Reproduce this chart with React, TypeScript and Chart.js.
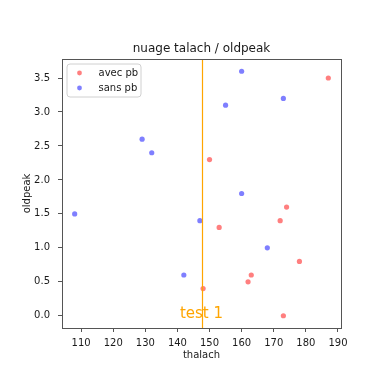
import React, { useEffect, useRef } from "react";
import { Chart, registerables } from "chart.js";

Chart.register(...registerables);

const TITLE = "nuage talach / oldpeak";
const X_LABEL = "thalach";
const Y_LABEL = "oldpeak";

const AVEC_LABEL = "avec pb";
const avecX = [187, 150, 174, 172, 153, 178, 163, 162, 148, 173];
const avecY = [3.5, 2.3, 1.6, 1.4, 1.3, 0.8, 0.6, 0.5, 0.4, 0.0];

const SANS_LABEL = "sans pb";
const sansX = [160, 173, 155, 129, 132, 160, 108, 147, 168, 142];
const sansY = [3.6, 3.2, 3.1, 2.6, 2.4, 1.8, 1.5, 1.4, 1.0, 0.6];

const LINE_X = 147.5;
const LINE_TEXT = "test 1";
const LINE_TEXT_Y = 0;

const X_MIN = 104.05;
const X_MAX = 190.95;
const Y_MIN = -0.18;
const Y_MAX = 3.78;

const FONT = "'DejaVu Sans', sans-serif";
const SPINE = "#555";
const TEXT = "#1a1a1a";

const framePlugin = {
  id: "frameAndExtras",
  afterDatasetsDraw(chart: any) {
    const { ctx, chartArea, scales } = chart;
    const xs = scales.x;
    const ys = scales.y;
    ctx.save();
    // title, centred on the plot area
    ctx.fillStyle = TEXT;
    ctx.font = `12px ${FONT}`;
    ctx.textAlign = "center";
    ctx.textBaseline = "middle";
    ctx.fillText(TITLE, (chartArea.left + chartArea.right) / 2, chartArea.top - 10);
    // vertical line
    const lx = Math.round(xs.getPixelForValue(LINE_X)) + 0.5;
    ctx.strokeStyle = "orange";
    ctx.lineWidth = 1.2;
    ctx.beginPath();
    ctx.moveTo(lx, chartArea.top);
    ctx.lineTo(lx, chartArea.bottom);
    ctx.stroke();
    // label
    ctx.fillStyle = "orange";
    ctx.font = `15px ${FONT}`;
    ctx.textAlign = "center";
    ctx.textBaseline = "alphabetic";
    ctx.fillText(LINE_TEXT, xs.getPixelForValue(LINE_X), ys.getPixelForValue(LINE_TEXT_Y) + 2);
    // frame
    ctx.strokeStyle = SPINE;
    ctx.lineWidth = 1;
    ctx.strokeRect(
      Math.round(chartArea.left) + 0.5,
      Math.round(chartArea.top) + 0.5,
      Math.round(chartArea.right - chartArea.left),
      Math.round(chartArea.bottom - chartArea.top)
    );
    // legend
    const bx = chartArea.left + 5;
    const by = chartArea.top + 5;
    const bw = 74;
    const bh = 33;
    const r = 3;
    ctx.beginPath();
    ctx.moveTo(bx + r, by);
    ctx.lineTo(bx + bw - r, by);
    ctx.arcTo(bx + bw, by, bx + bw, by + r, r);
    ctx.lineTo(bx + bw, by + bh - r);
    ctx.arcTo(bx + bw, by + bh, bx + bw - r, by + bh, r);
    ctx.lineTo(bx + r, by + bh);
    ctx.arcTo(bx, by + bh, bx, by + bh - r, r);
    ctx.lineTo(bx, by + r);
    ctx.arcTo(bx, by, bx + r, by, r);
    ctx.closePath();
    ctx.fillStyle = "rgba(255,255,255,0.8)";
    ctx.fill();
    ctx.strokeStyle = "#d0d0d0";
    ctx.lineWidth = 1;
    ctx.stroke();
    ctx.font = `10px ${FONT}`;
    ctx.textAlign = "left";
    ctx.textBaseline = "middle";
    chart.data.datasets.forEach((ds: any, i: number) => {
      const cy = by + 9 + i * 15;
      ctx.beginPath();
      ctx.arc(bx + 12.5, cy, 2.4, 0, Math.PI * 2);
      ctx.fillStyle = ds.backgroundColor;
      ctx.fill();
      ctx.fillStyle = TEXT;
      ctx.fillText(ds.label, bx + 31.5, cy);
    });
    ctx.restore();
  },
};

export default function App() {
  const ref = useRef<HTMLCanvasElement>(null);
  useEffect(() => {
    if (!ref.current) return;
    const chart = new Chart(ref.current, {
      type: "scatter",
      data: {
        datasets: [
          {
            label: AVEC_LABEL,
            data: avecX.map((x, i) => ({ x, y: avecY[i] })),
            backgroundColor: "rgba(255,0,0,0.5)",
            borderWidth: 0,
            pointRadius: 2.6,
          },
          {
            label: SANS_LABEL,
            data: sansX.map((x, i) => ({ x, y: sansY[i] })),
            backgroundColor: "rgba(0,0,255,0.5)",
            borderWidth: 0,
            pointRadius: 2.6,
          },
        ],
      },
      options: {
        responsive: false,
        animation: false,
        layout: { padding: { left: 0, top: 59, right: 38, bottom: 0 } },
        plugins: {
          legend: { display: false },
          tooltip: { enabled: false },
          title: { display: false },
        },
        scales: {
          x: {
            type: "linear",
            min: X_MIN,
            max: X_MAX,
            afterFit(scale: any) {
              scale.height = 42;
            },
            border: { display: true, color: SPINE, width: 1 },
            grid: {
              display: true,
              drawOnChartArea: false,
              drawTicks: true,
              tickLength: 4,
              color: SPINE,
            },
            ticks: {
              stepSize: 10,
              includeBounds: false,
              maxRotation: 0,
              padding: 5,
              color: TEXT,
              font: { family: FONT, size: 10 },
              callback: (v: any) => String(Math.round(Number(v))),
            },
            title: {
              display: true,
              text: X_LABEL,
              color: TEXT,
              font: { family: FONT, size: 10 },
              padding: { top: 0, bottom: 9 },
            },
          },
          y: {
            type: "linear",
            min: Y_MIN,
            max: Y_MAX,
            afterFit(scale: any) {
              scale.width = 62;
            },
            border: { display: true, color: SPINE, width: 1 },
            grid: {
              display: true,
              drawOnChartArea: false,
              drawTicks: true,
              tickLength: 4,
              color: SPINE,
            },
            ticks: {
              stepSize: 0.5,
              includeBounds: false,
              padding: 8,
              color: TEXT,
              font: { family: FONT, size: 10 },
              callback: (v: any) => Number(v).toFixed(1),
            },
            title: {
              display: true,
              text: Y_LABEL,
              color: TEXT,
              font: { family: FONT, size: 10 },
              padding: { top: 21.3, bottom: 0 },
            },
          },
        },
      },
      plugins: [framePlugin],
    });
    return () => chart.destroy();
  }, []);
  return (
    <div style={{ position: "absolute", left: 0, top: 0, width: 379, height: 370, background: "#fff" }}>
      <canvas ref={ref} width={379} height={370} style={{ display: "block" }} />
    </div>
  );
}
